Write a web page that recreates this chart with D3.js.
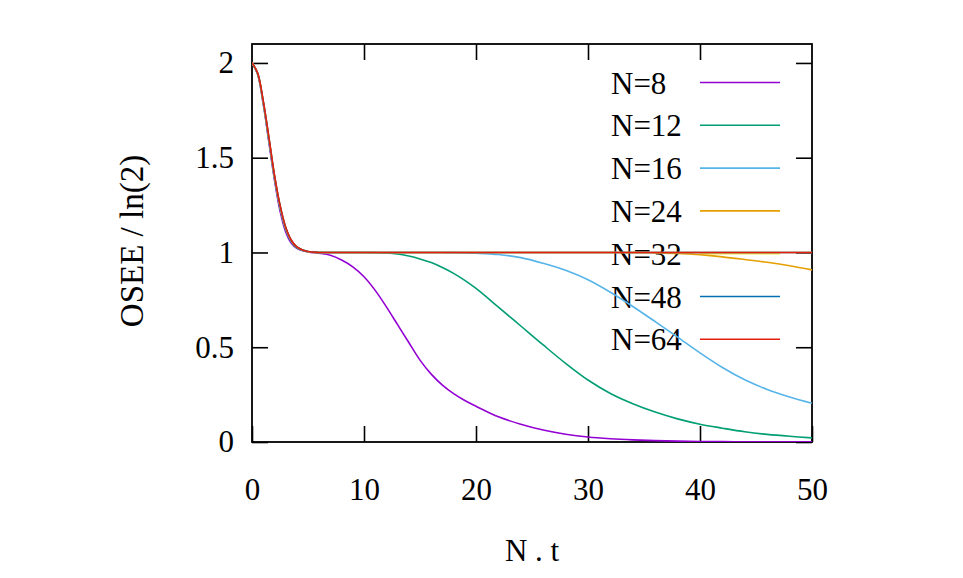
<!DOCTYPE html>
<html>
<head>
<meta charset="utf-8">
<script src="https://cdn.jsdelivr.net/npm/d3@7"></script>
<style>
  body { margin: 0; background: #fff; }
  svg text { font-family: "Liberation Serif", "Times New Roman", serif; font-size: 31px; fill: #000; }
</style>
</head>
<body>
<div id="chart"></div>
<script>
// time grid (N . t) shared by all curves
var tGrid = [0, 0.5, 1, 1.5, 2, 2.5, 3, 3.5, 4,
             5, 6, 7, 8, 9, 10, 11, 12, 13, 14, 15, 16, 17, 18, 19, 20,
             22, 24, 26, 28, 30, 32, 34, 36, 38, 40, 42, 44, 46, 48, 50]

// OSEE / ln(2)
var n8  = [2.0, 1.94, 1.785, 1.585, 1.385, 1.22, 1.11, 1.05, 1.022,
           1.003, 0.996, 0.985, 0.96, 0.924, 0.872, 0.8, 0.713, 0.619, 0.525, 0.432, 0.358, 0.3, 0.255, 0.219, 0.189,
           0.133, 0.094, 0.063, 0.041, 0.026, 0.017, 0.011, 0.007, 0.0045, 0.003, 0.002, 0.0013, 0.0009, 0.0006, 0.0004]
var n12 = [2.0, 1.942, 1.79, 1.595, 1.395, 1.235, 1.122, 1.058, 1.025,
           1.004, 1.0, 1.0, 1.0, 1.0, 1.0, 0.999, 0.997, 0.992, 0.981, 0.966, 0.947, 0.921, 0.89, 0.853, 0.81,
           0.712, 0.612, 0.512, 0.415, 0.327, 0.256, 0.202, 0.158, 0.122, 0.094, 0.073, 0.054, 0.04, 0.03, 0.022]
var n16 = [2.0, 1.944, 1.793, 1.6, 1.4, 1.24, 1.127, 1.061, 1.027,
           1.004, 1.0, 1.0, 1.0, 1.0, 1.0, 1.0, 1.0, 1.0, 1.0, 1.0, 1.0, 0.9995, 0.999, 0.998, 0.996,
           0.989, 0.973, 0.943, 0.906, 0.856, 0.79, 0.715, 0.635, 0.553, 0.47, 0.393, 0.328, 0.277, 0.237, 0.204]
var n24 = [2.0, 1.945, 1.796, 1.604, 1.404, 1.244, 1.13, 1.063, 1.028,
           1.004, 1.0, 1.0, 1.0, 1.0, 1.0, 1.0, 1.0, 1.0, 1.0, 1.0, 1.0, 1.0, 1.0, 1.0, 1.0,
           1.0, 1.0, 1.0, 1.0, 1.0, 1.0, 0.999, 0.998, 0.995, 0.988, 0.977, 0.963, 0.948, 0.93, 0.908]
var n32 = [2.0, 1.946, 1.798, 1.607, 1.407, 1.247, 1.132, 1.064, 1.029,
           1.004, 1.0, 1.0, 1.0, 1.0, 1.0, 1.0, 1.0, 1.0, 1.0, 1.0, 1.0, 1.0, 1.0, 1.0, 1.0,
           1.0, 1.0, 1.0, 1.0, 1.0, 1.0, 1.0, 1.0, 1.0, 1.0, 1.0, 1.0, 1.0, 1.0, 1.0]
var n48 = [2.0, 1.947, 1.8, 1.609, 1.409, 1.249, 1.134, 1.065, 1.03,
           1.005, 1.0, 1.0, 1.0, 1.0, 1.0, 1.0, 1.0, 1.0, 1.0, 1.0, 1.0, 1.0, 1.0, 1.0, 1.0,
           1.0, 1.0, 1.0, 1.0, 1.0, 1.0, 1.0, 1.0, 1.0, 1.0, 1.0, 1.0, 1.0, 1.0, 1.0]
var n64 = [2.0, 1.948, 1.801, 1.611, 1.411, 1.251, 1.135, 1.066, 1.03,
           1.005, 1.0, 1.0, 1.0, 1.0, 1.0, 1.0, 1.0, 1.0, 1.0, 1.0, 1.0, 1.0, 1.0, 1.0, 1.0,
           1.0, 1.0, 1.0, 1.0, 1.0, 1.0, 1.0, 1.0, 1.0, 1.0, 1.0, 1.0, 1.0, 1.0, 1.0]

var seriesLabels = ["N=8", "N=12", "N=16", "N=24", "N=32", "N=48", "N=64"]
var seriesValues = [n8, n12, n16, n24, n32, n48, n64]
var seriesColors = ["#9400d3", "#009e73", "#56b4e9", "#e69f00", "#f0e442", "#0072b2", "#e51e10"]

var xTicks = [0, 10, 20, 30, 40, 50],
    yTicks = [0, 0.5, 1, 1.5, 2]

function drawChart(target) { //{{{
  var W = 963, H = 578,
      margin = {top: 44, right: 151, bottom: 136, left: 252},
      width  = W - margin.left - margin.right,
      height = H - margin.top - margin.bottom,
      tick   = 16

  var svg = d3.select(target)
    .append("svg")
    .attr("width", W)
    .attr("height", H)

  var g = svg.append("g")
    .attr("transform", "translate(" + margin.left + "," + margin.top + ")")

  var x = d3.scaleLinear()
    .domain([0, 50])
    .range([0, width])

  var y = d3.scaleLinear()
    .domain([0, 2.1])
    .range([height, 0])

  g.append("clipPath").attr("id", "plotclip")
    .append("rect").attr("width", width).attr("height", height)

  // axes, ticks pointing inwards on all four sides
  var fmt = d => d3.format("")(d)
  g.append("g").attr("class", "axis")
    .attr("transform", "translate(0," + height + ")")
    .call(d3.axisBottom(x).tickValues(xTicks).tickFormat(fmt).tickSize(-tick).tickPadding(36))
  g.append("g").attr("class", "axis")
    .call(d3.axisTop(x).tickValues(xTicks.slice(1, -1)).tickFormat("").tickSize(-tick))
  g.append("g").attr("class", "axis")
    .call(d3.axisLeft(y).tickValues(yTicks).tickFormat(fmt).tickSize(-tick).tickPadding(18))
  g.append("g").attr("class", "axis")
    .attr("transform", "translate(" + width + ",0)")
    .call(d3.axisRight(y).tickValues(yTicks).tickFormat("").tickSize(-tick))

  g.selectAll(".axis .domain").remove()
  g.selectAll(".axis line").attr("stroke", "#000").attr("stroke-width", 1.6)
  g.selectAll(".axis text")
    .attr("font-family", null).attr("font-size", null)
    .style("font-family", "'Liberation Serif', 'Times New Roman', serif").style("font-size", "31px")
    .attr("fill", "#000")

  g.append("rect")
    .attr("width", width).attr("height", height)
    .attr("fill", "none").attr("stroke", "#000").attr("stroke-width", 1.8)

  // key (drawn first: the curves go over it)
  var key = g.append("g").attr("class", "key")
  seriesLabels.forEach((lab, i) => {
    var ky = 38.5 + i * 42.8
    key.append("text")
      .attr("x", 359).attr("y", ky)
      .attr("dy", "0.36em")
      .text(lab)
    key.append("line")
      .attr("x1", 448).attr("x2", 528)
      .attr("y1", ky).attr("y2", ky)
      .attr("stroke", seriesColors[i]).attr("stroke-width", 1.6)
  })

  var line = d3.line()
    .curve(d3.curveCatmullRom.alpha(0.5))
    .x(d => x(d.t))
    .y(d => y(d.v))

  var curves = g.append("g").attr("clip-path", "url(#plotclip)")
  seriesValues.forEach((vals, i) => {
    var data = tGrid.map((t, j) => ({t: t, v: vals[j]}))
    curves.append("path")
      .datum(data)
      .attr("fill", "none")
      .attr("stroke", seriesColors[i])
      .attr("stroke-width", 1.6)
      .attr("stroke-linejoin", "round")
      .attr("d", line)
  })

  // axis titles
  svg.append("text")
    .attr("x", margin.left + width / 2).attr("y", 561)
    .attr("text-anchor", "middle")
    .text("N . t")

  svg.append("text")
    .attr("transform", "translate(143," + 241 + ") rotate(-90)")
    .attr("text-anchor", "middle")
    .style("font-size", "33px")
    .text("OSEE / ln(2)")
} //}}}

drawChart("#chart")
</script>
</body>
</html>
